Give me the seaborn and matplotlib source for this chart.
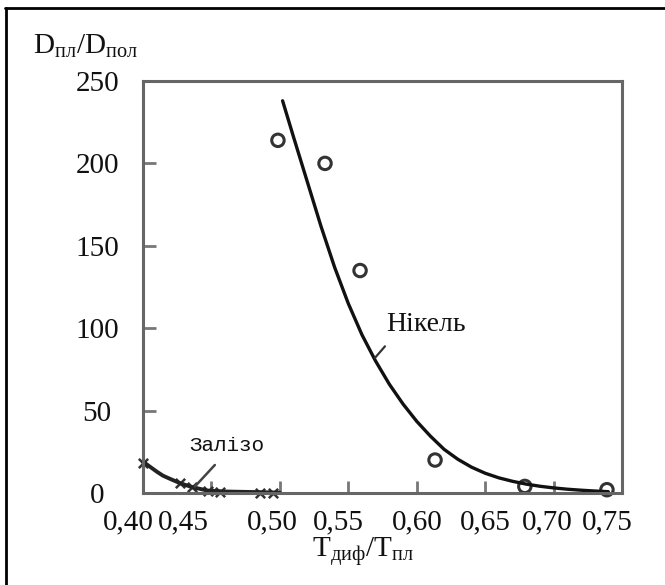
import matplotlib
matplotlib.use("Agg")
import matplotlib.pyplot as plt
import matplotlib.transforms as mtransforms
from matplotlib.lines import Line2D
import seaborn as sns
import pandas as pd

# ---- data ----
ni_x = [0.4986, 0.533, 0.5586, 0.6134, 0.679, 0.739]
ni_y = [214, 200, 135, 20, 4, 2]

fe_x = [0.40, 0.427, 0.436, 0.4475, 0.456, 0.4855, 0.495]
fe_y = [18, 6, 3.6, 1.0, 0.5, 0.3, 0.2]

ni_curve_x = [0.502, 0.51, 0.52, 0.53, 0.54, 0.55, 0.56, 0.57, 0.58, 0.59,
              0.60, 0.61, 0.62, 0.63, 0.64, 0.65, 0.66, 0.67, 0.68, 0.69,
              0.70, 0.71, 0.72, 0.73, 0.74]
ni_curve_y = [238, 216, 189, 162, 137, 115, 96, 80, 66, 54,
              43.5, 34.5, 26.5, 20.5, 15.7, 12, 9.2, 7.1, 5.4, 4.1,
              3.1, 2.3, 1.7, 1.2, 0.8]

fe_curve_x = [0.40, 0.41, 0.4146, 0.42, 0.427, 0.435, 0.4468, 0.46, 0.4855, 0.50]
fe_curve_y = [19, 13, 10.5, 8.5, 6, 3.8, 1.5, 0.9, 0.5, 0.2]

x_ticks = [0.40, 0.45, 0.50, 0.55, 0.60, 0.65, 0.70, 0.75]
x_tick_labels = ["0,40", "0,45", "0,50", "0,55", "0,60", "0,65", "0,70", "0,75"]
y_ticks = [0, 50, 100, 150, 200, 250]
y_tick_labels = ["0", "50", "100", "150", "200", "250"]

ni_label = "Нікель"
fe_label = "Залізо"

# ---- style ----
sns.set_theme(style="white")
plt.rcParams["font.family"] = ["Liberation Serif", "DejaVu Serif"]
plt.rcParams["mathtext.fontset"] = "custom"
plt.rcParams["mathtext.rm"] = "Liberation Serif"
plt.rcParams["mathtext.it"] = "Liberation Serif"

fig = plt.figure(figsize=(6.65, 5.85), dpi=100)
ax = fig.add_axes([143 / 665, (585 - 493) / 585, (622 - 143) / 665, (493 - 81) / 585])

df_ni_c = pd.DataFrame({"x": ni_curve_x, "y": ni_curve_y})
df_fe_c = pd.DataFrame({"x": fe_curve_x, "y": fe_curve_y})
df_ni = pd.DataFrame({"x": ni_x, "y": ni_y})
df_fe = pd.DataFrame({"x": fe_x, "y": fe_y})

sns.lineplot(data=df_ni_c, x="x", y="y", ax=ax, color="#111111", lw=2.4,
             sort=False, estimator=None)
sns.lineplot(data=df_fe_c, x="x", y="y", ax=ax, color="#222222", lw=2.8,
             sort=False, estimator=None, clip_on=False)
sns.scatterplot(data=df_ni, x="x", y="y", ax=ax, marker="o", s=80,
                facecolor="none", edgecolor="#333333", linewidth=2.2, clip_on=False)
sns.scatterplot(data=df_fe, x="x", y="y", ax=ax, marker="x", s=45,
                color="#333333", linewidth=1.8, clip_on=False)

ax.set_xlim(0.40, 0.75)
ax.set_ylim(0, 250)
ax.set_xlabel("")
ax.set_ylabel("")

ax.set_xticks(x_ticks)
ax.set_xticklabels(x_tick_labels)
ax.set_yticks(y_ticks)
ax.set_yticklabels(y_tick_labels)

for s in ax.spines.values():
    s.set_color("#666666")
    s.set_linewidth(2.2)

ax.tick_params(axis="both", direction="in", length=9, width=2, color="#777777",
               labelsize=21, labelcolor="#111111")
ax.tick_params(axis="x", pad=12, bottom=True)
ax.tick_params(axis="y", pad=33, left=True)
for lab in ax.get_yticklabels():
    lab.set_ha("center")

# irregular label offsets, as in the scanned reference (pixels)
x_offsets = [-15, -28, -8, -10, 1, 0, -6, -15]
for lab, dx in zip(ax.get_xticklabels(), x_offsets):
    lab.set_transform(lab.get_transform() +
                      mtransforms.ScaledTranslation(dx / 100, 0, fig.dpi_scale_trans))

# annotations
ax.text(0.6068, 102.5, ni_label, ha="center", va="center", fontsize=20,
        family=["Liberation Serif"], color="#111111")
ax.plot([0.5695, 0.5768], [82, 89], color="#333333", lw=1.6)
ax.text(0.4614, 29, fe_label, ha="center", va="center", fontsize=15,
        family=["Liberation Mono"], color="#111111")
ax.plot([0.438, 0.4525], [4, 17], color="#444444", lw=1.8)

# axis titles
fig.text(33 / 665, 1 - 46 / 585, r"$\mathrm{D_{пл}/D_{пол}}$", ha="left", va="center",
         fontsize=21, color="#111111")
fig.text(363 / 665, 1 - 551 / 585, r"$\mathrm{T_{диф}/T_{пл}}$", ha="center", va="center",
         fontsize=21, color="#111111")

# outer frame (top and left lines)
fig.add_artist(Line2D([5 / 665, 1.0], [1 - 8 / 585, 1 - 8 / 585],
                      transform=fig.transFigure, color="black", lw=2))
fig.add_artist(Line2D([6 / 665, 6 / 665], [0, 1 - 8 / 585],
                      transform=fig.transFigure, color="black", lw=2))

fig.savefig("out.png", dpi=100)
